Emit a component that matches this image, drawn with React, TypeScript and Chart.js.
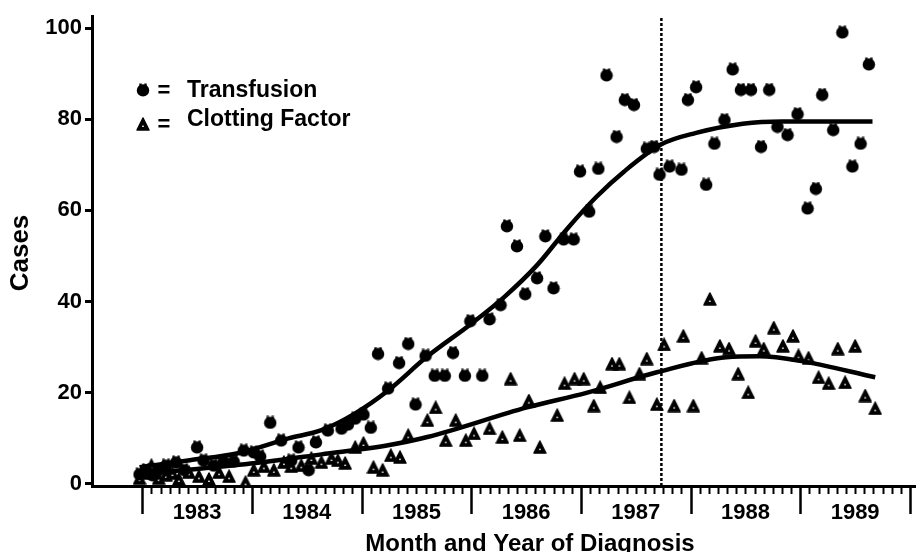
import React, { useEffect, useRef } from 'react';
import { Chart, registerables } from 'chart.js';

Chart.register(...registerables);

// x values are months counted from January 1983 (0 = Jan 1983)
const transfusionMonths = [
  -0.3, 0.4, 1.1, 1.8, 2.6, 3.7, 4.6, 6.0, 6.7, 7.8, 8.9, 10.0, 11.1, 12.2, 12.9, 14.0,
  15.2, 16.3, 17.1, 18.2, 19.0, 20.3, 21.8, 22.5, 23.3, 24.2, 25.0, 25.8, 26.9, 28.1, 29.1,
  29.9, 31.0, 32.0, 33.1, 34.0, 35.3, 35.9, 37.2, 38.0, 39.2, 39.9, 41.0, 41.9, 43.2, 44.1,
  45.0, 46.1, 47.2, 47.9, 48.9, 49.9, 50.8, 51.9, 52.8, 53.8, 55.2, 56.0, 56.6, 57.7, 59.0,
  59.7, 60.6, 61.7, 62.6, 63.7, 64.6, 65.5, 66.6, 67.7, 68.6, 69.5, 70.6, 71.7, 72.8, 73.7,
  74.4, 75.6, 76.6, 77.7, 78.6, 79.5,
];
const transfusionCases = [
  2.2, 3.1, 2.0, 3.1, 4.1, 4.8, 3.1, 8.1, 5.2, 4.1, 5.0, 5.0, 7.4, 7.0, 6.1, 13.5,
  9.6, 5.2, 8.1, 3.1, 9.2, 11.8, 12.2, 13.1, 14.4, 15.3, 12.4, 28.6, 21.0, 26.6, 30.8,
  17.5, 28.2, 23.8, 23.8, 28.8, 23.8, 35.8, 23.8, 36.2, 39.3, 56.6, 52.2, 41.7, 45.2, 54.4,
  43.0, 53.7, 53.7, 68.6, 59.8, 69.2, 89.7, 76.2, 84.3, 83.2, 73.6, 74.0, 67.9, 69.7, 69.0,
  84.3, 87.1, 65.7, 74.7, 79.9, 91.0, 86.5, 86.5, 74.0, 86.5, 78.4, 76.6, 81.2, 60.5, 64.8,
  85.4, 77.7, 99.1, 69.7, 74.7, 92.1,
];

const clottingMonths = [
  -0.3, 0.4, 1.0, 1.8, 2.6, 3.3, 4.0, 5.1, 6.2, 7.3, 8.4, 9.5, 11.3, 12.2, 13.3, 14.4,
  15.5, 16.3, 17.4, 18.5, 19.6, 20.7, 21.4, 22.2, 23.3, 24.2, 25.3, 26.3, 27.2, 28.2, 29.1,
  31.2, 32.1, 33.2, 34.3, 35.4, 36.3, 38.0, 39.4, 40.3, 41.3, 42.3, 43.5, 45.4, 46.2, 47.3,
  48.3, 49.4, 50.1, 51.4, 52.2, 53.3, 54.4, 55.2, 56.3, 57.1, 58.2, 59.2, 60.3, 61.2, 62.1,
  63.2, 64.2, 65.2, 66.3, 67.1, 68.0, 69.1, 70.1, 71.2, 71.8, 72.9, 74.0, 75.1, 76.1, 76.9,
  78.0, 79.1, 80.2,
];
const clottingCases = [
  1.3, 2.4, 4.1, 1.3, 2.0, 2.4, 1.1, 2.6, 1.7, 1.1, 2.6, 1.7, 0.4, 3.1, 3.9, 3.1,
  4.8, 3.9, 4.1, 5.7, 4.8, 5.7, 5.2, 4.6, 8.1, 9.0, 3.7, 3.1, 6.3, 5.9, 10.7,
  14.0, 16.8, 9.6, 14.0, 9.6, 11.1, 12.2, 10.3, 23.1, 10.7, 18.3, 8.1, 15.1, 22.1, 23.1,
  23.1, 17.2, 21.2, 26.4, 26.4, 19.0, 24.2, 27.5, 17.5, 30.6, 17.2, 32.5, 17.2, 27.7, 40.6,
  30.3, 29.7, 24.2, 20.1, 31.4, 29.7, 34.3, 30.3, 32.5, 28.2, 27.7, 23.4, 22.1, 29.7, 22.3,
  30.3, 19.4, 16.6,
];

// smoothed trend curves
const transfusionFitMonths = [-0.3, 5.2, 10.6, 16.0, 19.6, 23.3, 26.9, 31.2, 35.9, 39.6, 43.2, 46.5, 49.7, 52.7, 56.8, 60.6, 65.7, 70.0, 79.9];
const transfusionFitCases = [3.7, 5.2, 6.8, 10.0, 11.8, 15.5, 20.5, 28.0, 35.0, 41.0, 48.0, 56.0, 63.0, 68.5, 74.5, 77.0, 79.0, 79.5, 79.5];
const clottingFitMonths = [-0.3, 6.0, 12.4, 19.6, 26.9, 31.2, 42.1, 48.6, 56.3, 63.9, 67.5, 72.0, 80.2];
const clottingFitCases = [2.2, 3.3, 4.6, 6.5, 8.5, 10.3, 16.8, 20.0, 24.5, 27.8, 28.0, 27.0, 23.4];

const definitionChangeMonth = 56.8;
const yearLabels = ['1983', '1984', '1985', '1986', '1987', '1988', '1989'];
const yTickValues = [0, 20, 40, 60, 80, 100];
const seriesNames = ['Transfusion', 'Clotting Factor'];
const xTitle = 'Month and Year of Diagnosis';
const yTitle = 'Cases';

const FONT = "'Liberation Sans', Arial, sans-serif";

function makeBlob(): HTMLCanvasElement {
  const c = document.createElement('canvas');
  c.width = 14;
  c.height = 14;
  const g = c.getContext('2d')!;
  g.fillStyle = '#000000';
  g.beginPath();
  g.arc(7, 7.4, 6.2, 0, Math.PI * 2);
  g.closePath();
  g.fill();
  g.fillRect(3.3, 0.5, 2.4, 3.5);
  g.fillRect(8.3, 0.5, 2.4, 3.5);
  return c;
}

function makeTriangle(): HTMLCanvasElement {
  const c = document.createElement('canvas');
  c.width = 14;
  c.height = 14;
  const g = c.getContext('2d')!;
  g.fillStyle = '#000000';
  g.strokeStyle = '#000000';
  g.lineWidth = 1.5;
  g.lineJoin = 'round';
  g.beginPath();
  g.moveTo(7, 1);
  g.lineTo(13, 13);
  g.lineTo(1, 13);
  g.closePath();
  g.fill();
  g.stroke();
  g.fillStyle = '#ffffff';
  g.fillRect(6.2, 8.6, 1.6, 1.4);
  return c;
}

const zip = (xs: number[], ys: number[]) => xs.map((x, i) => ({ x, y: ys[i] }));

export default function App() {
  const ref = useRef<HTMLCanvasElement | null>(null);

  useEffect(() => {
    if (!ref.current) return;
    const blob = makeBlob();
    const tri = makeTriangle();

    const decorPlugin = {
      id: 'decor',
      afterDraw(chart: any) {
        const { ctx, chartArea } = chart;
        const xs = chart.scales.x;
        ctx.save();
        // monthly tick marks, long ones at year boundaries
        ctx.strokeStyle = '#000';
        for (let m = 0; m <= 84; m++) {
          const px = Math.round(xs.getPixelForValue(m)) + 0.5;
          const major = m % 12 === 0;
          ctx.lineWidth = major ? 2.5 : 2;
          ctx.beginPath();
          ctx.moveTo(px, chartArea.bottom);
          ctx.lineTo(px, chartArea.bottom + (major ? 28 : 8));
          ctx.stroke();
        }
        // titles
        ctx.fillStyle = '#000';
        ctx.font = `bold 24px ${FONT}`;
        ctx.textAlign = 'center';
        ctx.textBaseline = 'alphabetic';
        ctx.fillText(xTitle, 530, 551);
        ctx.save();
        ctx.translate(28, 253);
        ctx.rotate(-Math.PI / 2);
        ctx.font = `bold 26px ${FONT}`;
        ctx.fillText(yTitle, 0, 0);
        ctx.restore();
        // legend
        const rows = [
          { img: blob, y: 90, base: 97, text: seriesNames[0] },
          { img: tri, y: 124, base: 126, text: seriesNames[1] },
        ];
        rows.forEach((r) => {
          ctx.drawImage(r.img, 143 - 7, r.y - 7, 14, 14);
          ctx.font = `bold 22px ${FONT}`;
          ctx.textAlign = 'center';
          ctx.fillText('=', 164, r.y + 7);
          ctx.font = `bold 23px ${FONT}`;
          ctx.textAlign = 'left';
          ctx.fillText(r.text, 187, r.base);
        });
        ctx.restore();
      },
    };

    const chart = new Chart(ref.current, {
      type: 'scatter',
      data: {
        datasets: [
          {
            label: 'Transfusion trend',
            data: zip(transfusionFitMonths, transfusionFitCases),
            showLine: true,
            borderColor: '#000',
            borderWidth: 4.5,
            pointRadius: 0,
            cubicInterpolationMode: 'monotone',
            fill: false,
          },
          {
            label: 'Clotting Factor trend',
            data: zip(clottingFitMonths, clottingFitCases),
            showLine: true,
            borderColor: '#000',
            borderWidth: 4.5,
            pointRadius: 0,
            cubicInterpolationMode: 'monotone',
            fill: false,
          },
          {
            label: 'Definition change',
            data: [
              { x: definitionChangeMonth, y: -0.44 },
              { x: definitionChangeMonth, y: 102.6 },
            ],
            showLine: true,
            borderColor: '#000',
            borderWidth: 2.5,
            borderDash: [3, 2],
            pointRadius: 0,
            fill: false,
          },
          {
            label: seriesNames[0],
            data: zip(transfusionMonths, transfusionCases),
            pointStyle: blob,
            pointRadius: 7,
            backgroundColor: '#000',
            borderColor: '#000',
          },
          {
            label: seriesNames[1],
            data: zip(clottingMonths, clottingCases),
            pointStyle: tri,
            pointRadius: 7,
            backgroundColor: '#000',
            borderColor: '#000',
          },
        ],
      } as any,
      options: {
        animation: false,
        responsive: false,
        layout: { padding: { top: 14, right: 3, left: 0, bottom: 0 } },
        plugins: { legend: { display: false }, tooltip: { enabled: false } },
        scales: {
          x: {
            type: 'linear',
            min: -5.5,
            max: 84.55,
            afterBuildTicks: (s: any) => {
              s.ticks = yearLabels.map((_, i) => ({ value: 6 + 12 * i }));
            },
            afterFit: (s: any) => {
              s.height = 66;
            },
            ticks: {
              callback: (v: any) => yearLabels[Math.round((Number(v) - 6) / 12)],
              font: { family: FONT, size: 22, weight: 'bold' },
              color: '#000',
              padding: 6,
              maxRotation: 0,
              autoSkip: false,
            },
            grid: { display: false },
            border: { display: true, color: '#000', width: 3 },
          },
          y: {
            type: 'linear',
            min: -0.44,
            max: 102.6,
            afterBuildTicks: (s: any) => {
              s.ticks = yTickValues.map((v) => ({ value: v }));
            },
            afterFit: (s: any) => {
              s.width = 92;
            },
            ticks: {
              font: { family: FONT, size: 22, weight: 'bold' },
              color: '#000',
              padding: 3,
            },
            grid: {
              drawOnChartArea: false,
              drawTicks: true,
              tickLength: 7,
              tickWidth: 3,
              tickColor: '#000',
            },
            border: { display: true, color: '#000', width: 3 },
          },
        },
      } as any,
      plugins: [decorPlugin],
    });
    return () => chart.destroy();
  }, []);

  return (
    <div style={{ position: 'absolute', left: 0, top: 0, width: 923, height: 552, background: '#fff' }}>
      <canvas ref={ref} width={923} height={552} style={{ display: 'block' }} />
    </div>
  );
}
